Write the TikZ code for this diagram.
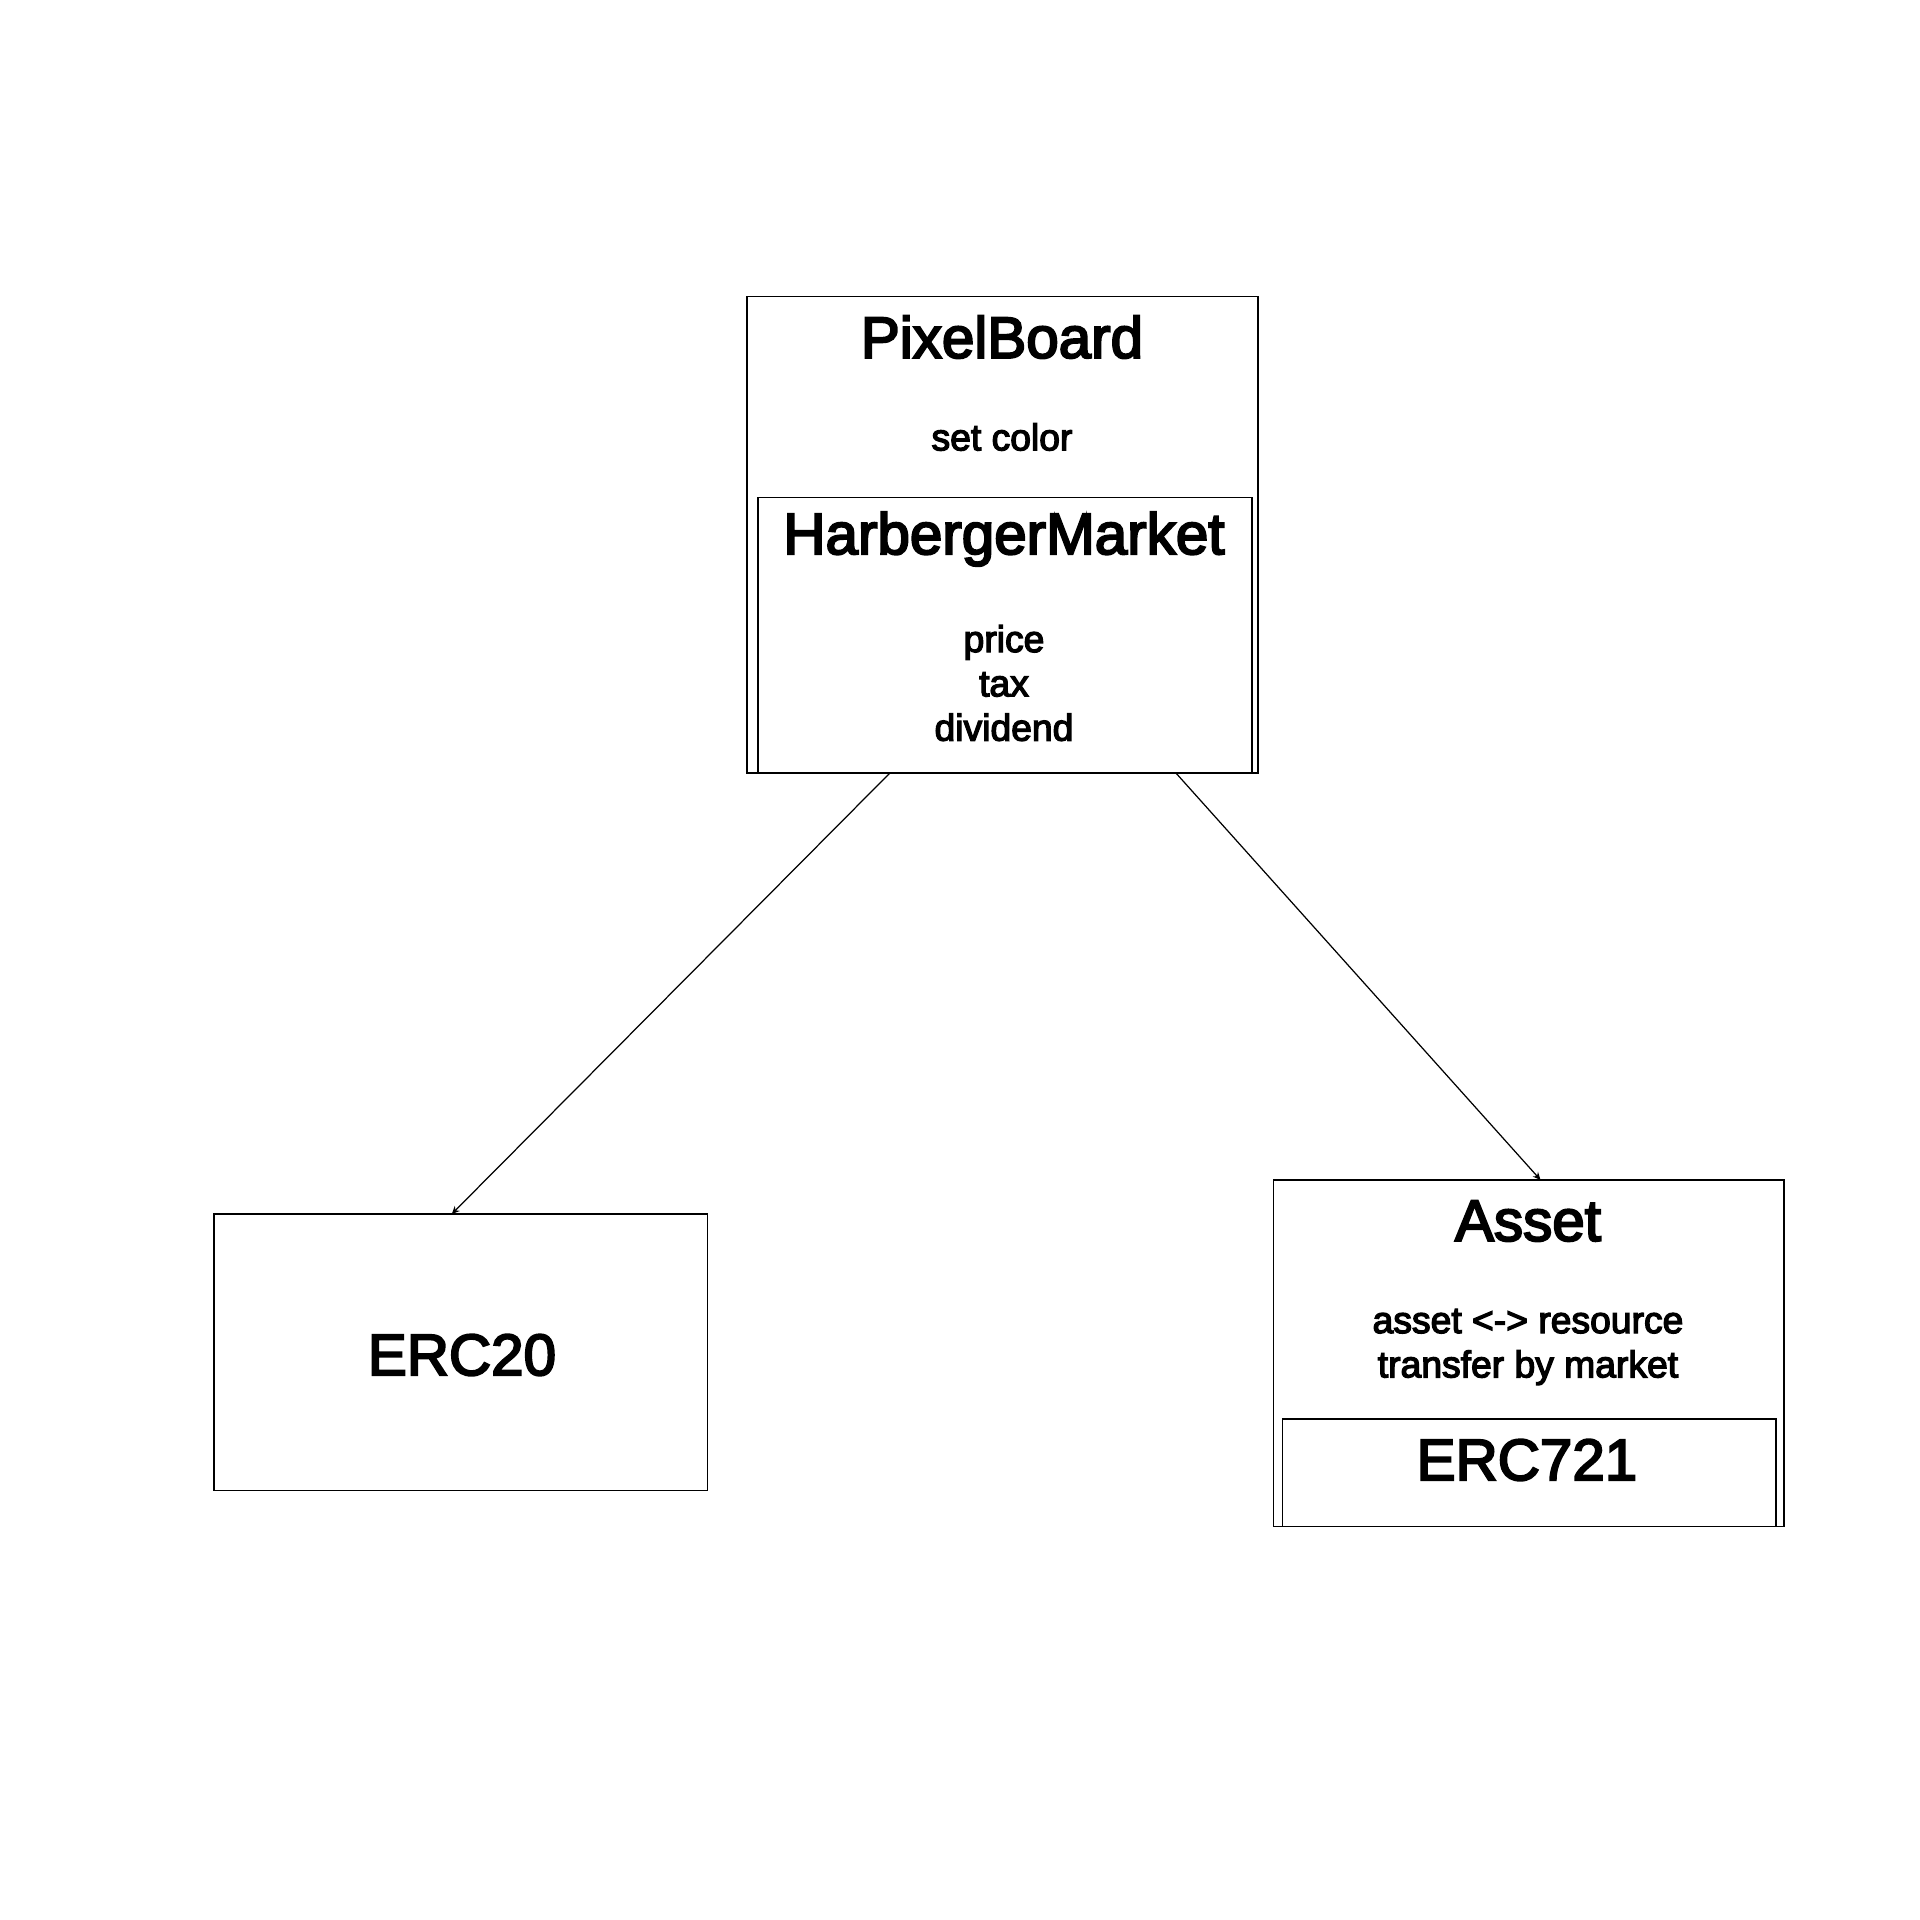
\documentclass[tikz,border=0pt]{standalone}
\usepackage{fontspec}
\setmainfont{Liberation Sans}
\newfontfamily\medfont{Liberation Sans}[FakeBold=3.5]
\usetikzlibrary{arrows.meta,calc}
\begin{document}
\begin{tikzpicture}[x=0.01cm,y=-0.01cm,
  box/.style={draw=black,line width=0.45pt,rectangle,inner sep=0pt,outer sep=0pt},
  title/.style={inner sep=0pt,font=\medfont\fontsize{16.6}{20}\selectfont},
  body/.style={inner sep=0pt,align=center,font=\medfont\fontsize{10.6}{12.6}\selectfont},
  conn/.style={line width=0.35pt,-{Stealth[length=2.2pt,width=2pt]}}]
\useasboundingbox[fill=white] (0,0) rectangle (1920,1920);
% boxes
\node[box,minimum width=5.104cm,minimum height=4.766cm] (pb) at (1002.5,534.8) {};
\node[box,minimum width=4.935cm,minimum height=2.756cm] (hm) at (1005,635.3) {};
\node[box,minimum width=4.935cm,minimum height=2.765cm] (erc20) at (460.7,1352.3) {};
\node[box,minimum width=5.104cm,minimum height=3.463cm] (asset) at (1528.8,1353.2) {};
\node[box,minimum width=4.935cm,minimum height=1.075cm] (erc721) at (1529.3,1472.6) {};
% texts
\node[title] (pbt) at (1002,337) {PixelBoard};
\node[body] (pbs) at (1002,437) {set color};
\node[title] (hmt) at (1004,539) {HarbergerMarket};
\node[body] (hms) at (1004,683) {price\\tax\\dividend};
\node[title] (erc20t) at (462,1355) {ERC20};
\node[title] (assett) at (1528,1221) {Asset};
\node[body] (assets) at (1528,1347) {asset <-> resource\\transfer by market};
\node[title] (erc721t) at (1527,1460) {ERC721};
% connectors
\draw[conn] ($(pb.south west)!0.279!(pb.south east)$) -- ($(erc20.north west)!0.482!(erc20.north east)$);
\draw[conn] ($(pb.south west)!0.84!(pb.south east)$) -- ($(asset.north west)!0.523!(asset.north east)$);
\end{tikzpicture}
\end{document}
